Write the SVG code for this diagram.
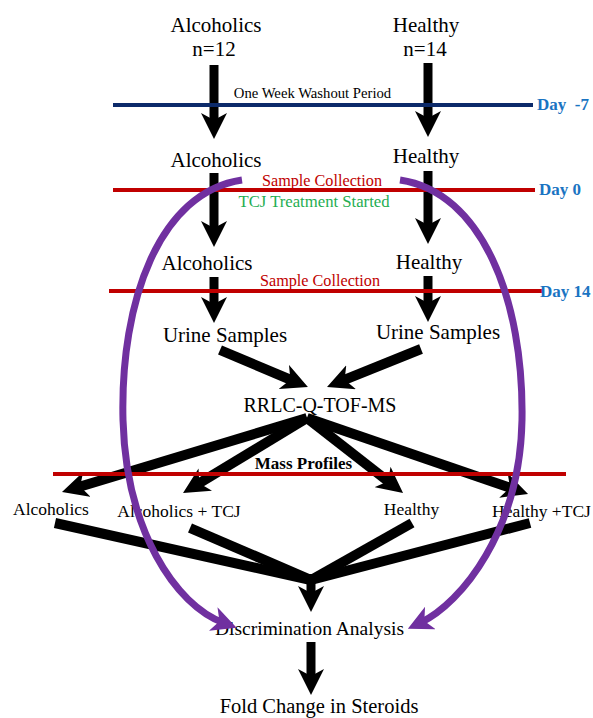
<svg xmlns="http://www.w3.org/2000/svg" width="593" height="718" viewBox="0 0 593 718">
<style>
text{font-family:"Liberation Serif","Times New Roman",serif;fill:#000;text-anchor:middle}
.big{font-size:21px}
.mid{font-size:20px}
.sm{font-size:17.5px}
.red{fill:#c00000;font-size:16.2px}
.green{fill:#1fae52;font-size:16.7px}
.day{fill:#1a74c2;font-size:17px;font-weight:bold;text-anchor:start}
.bold{font-weight:bold;font-size:17px}
.arrow{stroke:#000;stroke-width:9;fill:none;marker-end:url(#ah)}
.arrowd{stroke:#000;stroke-width:10;fill:none;marker-end:url(#ah)}
.line{stroke:#000;stroke-width:10;fill:none}
.rline{stroke:#c00000;stroke-width:4}
.purple{stroke:#7030a0;stroke-width:7;fill:none;marker-end:url(#ahp)}
</style>
<defs>
<marker id="ah" viewBox="0 0 26 26" refX="12" refY="13" markerWidth="26" markerHeight="26" markerUnits="userSpaceOnUse" orient="auto">
<path d="M0,0 L26,13 L0,26 L7,13 z" fill="#000"/>
</marker>
<marker id="ahp" viewBox="0 0 26 26" refX="12" refY="13" markerWidth="25" markerHeight="25" markerUnits="userSpaceOnUse" orient="auto">
<path d="M0,0 L26,13 L0,26 L7,13 z" fill="#7030a0"/>
</marker>
</defs>

<g id="connectors">
<path class="arrow" d="M214,65 L214,125"/>
<path class="arrow" d="M428,63 L428,123"/>
<path class="arrow" d="M214,173 L214,233"/>
<path class="arrow" d="M428,171 L428,230"/>
<path class="arrow" d="M214,277 L214,309"/>
<path class="arrow" d="M428,276 L428,308"/>
<path class="arrowd" d="M220,350 L295,381.6"/>
<path class="arrowd" d="M421,349 L340,381.7"/>
<path class="arrowd" d="M307,418 L75.4,488"/>
<path class="arrowd" d="M307,418 L195,485.8"/>
<path class="arrowd" d="M307,418 L392,484.4"/>
<path class="arrowd" d="M307,418 L514.8,489.4"/>
<path class="line" d="M55,523 L311,580"/>
<path class="line" d="M190,528 L311,580"/>
<path class="line" d="M412,523 L311,580"/>
<path class="line" d="M530,523 L311,580"/>
<path class="arrow" d="M311,574 L311,598"/>
<path class="arrow" d="M311,642 L311,681"/>
</g>

<g id="timeline">
<line x1="113" y1="105" x2="533" y2="105" stroke="#0c2a6a" stroke-width="4"/>
<text class="day" x="537" y="110" xml:space="preserve">Day  -7</text>
<text x="312.5" y="98" style="font-size:14.7px">One Week Washout Period</text>
<line class="rline" x1="113" y1="190" x2="535" y2="190"/>
<text class="day" x="539" y="195">Day 0</text>
<text class="red" x="322" y="186">Sample Collection</text>
<text class="green" x="314" y="207">TCJ Treatment Started</text>
<line class="rline" x1="109" y1="291" x2="543" y2="291"/>
<text class="day" x="540" y="297">Day 14</text>
<text class="red" x="320" y="286">Sample Collection</text>
<line class="rline" x1="53" y1="474" x2="566" y2="474"/>
<text class="bold" x="303.5" y="469">Mass Profiles</text>
</g>

<g id="alc-start"><text class="big" x="216" y="32">Alcoholics</text><text class="big" x="214" y="56">n=12</text></g>
<g id="hea-start"><text class="big" x="426" y="32">Healthy</text><text class="big" x="425" y="56">n=14</text></g>
<g id="alc-d0"><text class="big" x="216" y="167">Alcoholics</text></g>
<g id="hea-d0"><text class="big" x="426" y="163">Healthy</text></g>
<g id="alc-d14"><text class="big" x="207" y="270">Alcoholics</text></g>
<g id="hea-d14"><text class="big" x="429" y="269">Healthy</text></g>
<g id="urine-alc"><text class="big" x="225" y="342">Urine Samples</text></g>
<g id="urine-hea"><text class="big" x="438" y="339">Urine Samples</text></g>
<g id="rrlc"><text class="mid" x="320" y="412">RRLC-Q-TOF-MS</text></g>
<g id="p-alc"><text class="sm" x="51" y="515">Alcoholics</text></g>
<g id="p-alc-tcj"><text class="sm" x="179" y="517">Alcoholics + TCJ</text></g>
<g id="p-hea"><text class="sm" x="411.5" y="515">Healthy</text></g>
<g id="p-hea-tcj"><text class="sm" x="541.5" y="517">Healthy +TCJ</text></g>
<g id="discrim"><text x="309.5" y="635" style="font-size:19.5px">Discrimination Analysis</text></g>
<g id="fold"><text x="319" y="713" style="font-size:20.5px">Fold Change in Steroids</text></g>

<g id="cycle-connectors">
<path class="purple" d="M242,180 C160,192 120,300 123,420 C126,530 175,605 224,623"/>
<path class="purple" d="M400,180 C482,192 524,300 522,420 C520,530 462,603 420,623"/>
</g>
</svg>
